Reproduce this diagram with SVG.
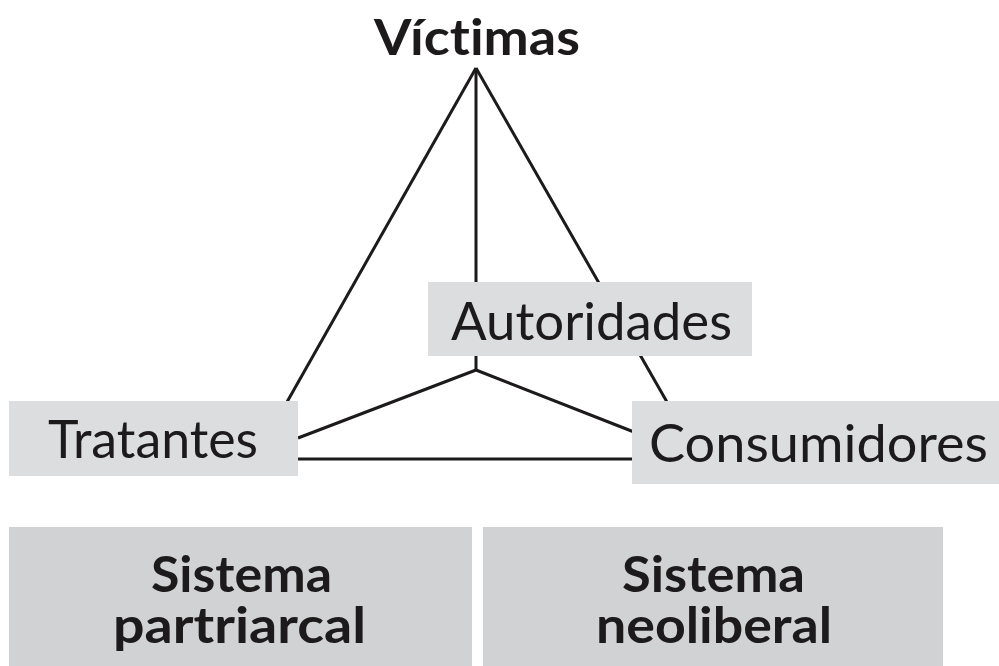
<svg xmlns="http://www.w3.org/2000/svg" width="999" height="666" viewBox="0 0 999 666">
<style>
.ln{stroke:#1c1a1a;stroke-width:3;fill:none;stroke-linecap:butt}
.bx{fill:#dcdddf}
.bb{fill:#d1d2d4}
text{font-variant-ligatures:none;font-feature-settings:"liga" 0}
.t{font-family:Lato,"Open Sans","Liberation Sans",sans-serif;font-size:52px;fill:#1c1a1a}
.h{font-family:Lato,"Open Sans","Liberation Sans",sans-serif;font-size:50px;font-weight:bold;fill:#1c1a1a}
.s{font-family:Lato,"Open Sans","Liberation Sans",sans-serif;font-size:50px;font-weight:bold;fill:#1c1a1a}
</style>
<rect width="999" height="666" fill="#ffffff"/>
<g id="connectors">
<line class="ln" x1="476" y1="68" x2="287" y2="402"/>
<line class="ln" x1="476" y1="68" x2="476" y2="370"/>
<line class="ln" x1="476" y1="68" x2="667" y2="402"/>
<line class="ln" x1="476" y1="370" x2="298" y2="438"/>
<line class="ln" x1="476" y1="370" x2="634" y2="432"/>
<line class="ln" x1="298" y1="459" x2="634" y2="459"/>
</g>
<g id="victimas">
<text class="h" x="374" y="55" textLength="206" lengthAdjust="spacingAndGlyphs">Víctimas</text>
</g>
<g id="autoridades">
<rect class="bx" x="428" y="282" width="324" height="74"/>
<text class="t" x="451" y="340" textLength="281" lengthAdjust="spacingAndGlyphs">Autoridades</text>
</g>
<g id="tratantes">
<rect class="bx" x="9" y="401" width="289" height="75"/>
<text class="t" x="48" y="458" textLength="210" lengthAdjust="spacingAndGlyphs">Tratantes</text>
</g>
<g id="consumidores">
<rect class="bx" x="632" y="401" width="367" height="83"/>
<text class="t" x="649" y="462" textLength="339" lengthAdjust="spacingAndGlyphs">Consumidores</text>
</g>
<g id="sistema-partriarcal">
<rect class="bb" x="9" y="527" width="463" height="139"/>
<text class="s" x="151" y="592" textLength="181" lengthAdjust="spacingAndGlyphs">Sistema</text>
<text class="s" x="113" y="643" textLength="253" lengthAdjust="spacingAndGlyphs">partriarcal</text>
</g>
<g id="sistema-neoliberal">
<rect class="bb" x="483" y="527" width="460" height="139"/>
<text class="s" x="622" y="592" textLength="183" lengthAdjust="spacingAndGlyphs">Sistema</text>
<text class="s" x="596" y="643" textLength="236" lengthAdjust="spacingAndGlyphs">neoliberal</text>
</g>
</svg>
